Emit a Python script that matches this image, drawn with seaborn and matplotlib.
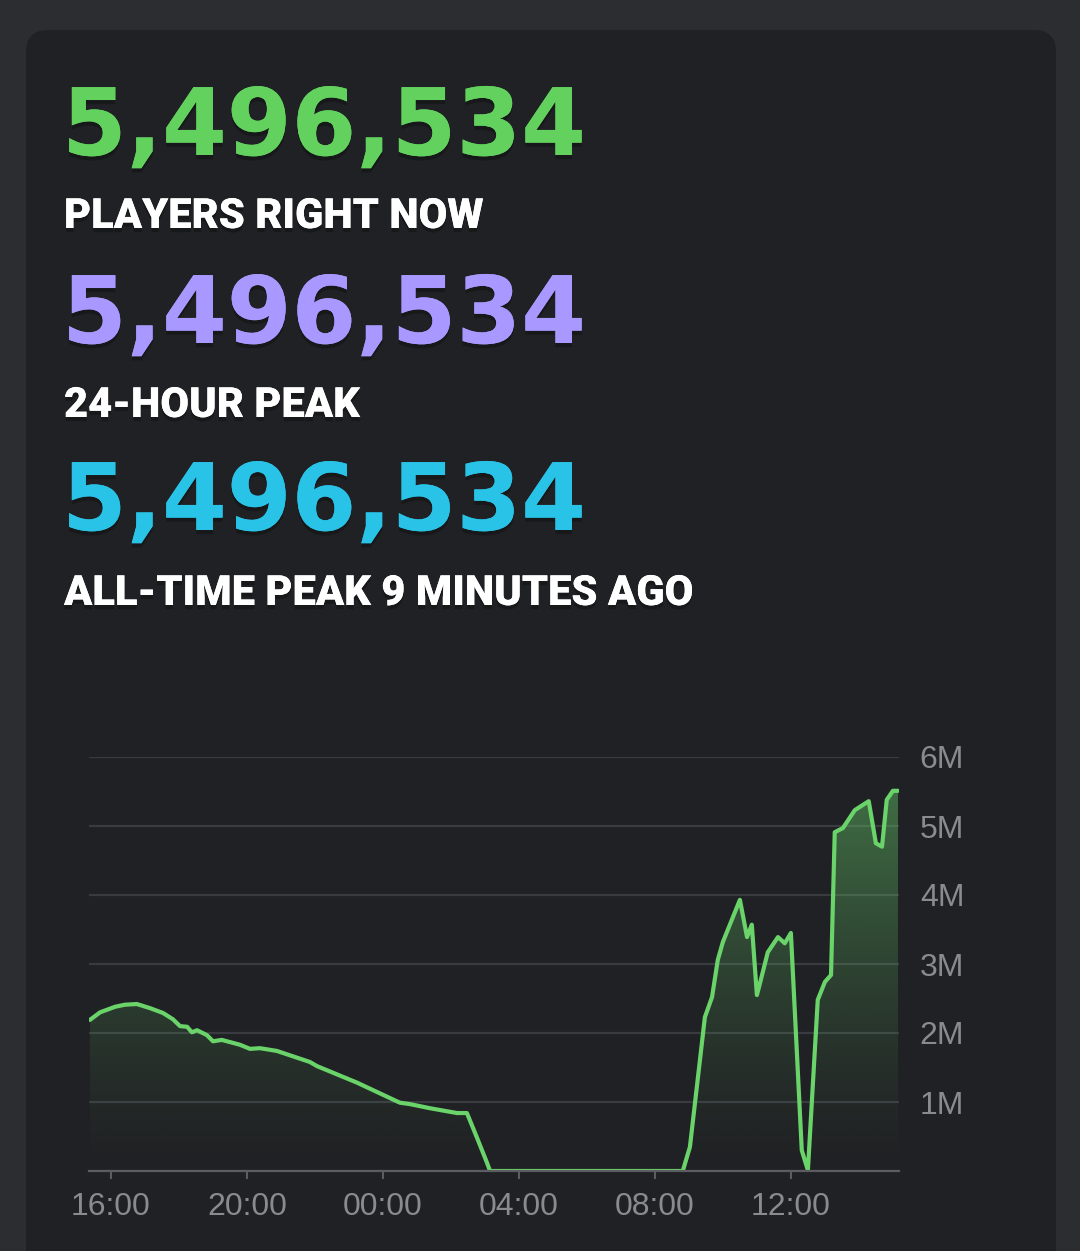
import numpy as np
import pandas as pd
import matplotlib
matplotlib.use('Agg')
import matplotlib.pyplot as plt
import matplotlib.patheffects as pe
from matplotlib.patches import FancyBboxPatch
import seaborn as sns

# ── Data ─────────────────────────────────────────────────────
# hours since 16:00, players in millions
hours = [-0.62, -0.32, 0.12, 0.41, 0.76, 1.15, 1.53, 1.82, 2.03, 2.24,
         2.38, 2.53, 2.82, 3.00, 3.26, 3.79, 4.09, 4.38, 4.88, 5.85,
         6.06, 7.24, 8.41, 8.50, 8.79, 9.38, 10.18, 10.47, 10.76, 11.06,
         11.15, 16.82, 17.03, 17.47, 17.68, 17.85, 18.00, 18.50, 18.71, 18.85,
         19.00, 19.09, 19.32, 19.62, 19.82, 20.00, 20.32, 20.50, 20.79, 21.00,
         21.18, 21.29, 21.53, 21.88, 22.29, 22.50, 22.68, 22.82, 23.00, 23.15]
players = [2.19, 2.30, 2.38, 2.41, 2.42, 2.36, 2.29, 2.20, 2.10, 2.09,
           2.01, 2.04, 1.97, 1.88, 1.90, 1.83, 1.77, 1.78, 1.74, 1.58,
           1.52, 1.28, 1.01, 0.99, 0.97, 0.91, 0.84, 0.84, 0.49, 0.12,
           0.0, 0.0, 0.35, 2.23, 2.52, 3.06, 3.32, 3.93, 3.39, 3.57,
           2.55, 2.72, 3.17, 3.39, 3.30, 3.45, 0.30, 0.01, 2.48, 2.74,
           2.84, 4.91, 4.97, 5.23, 5.36, 4.75, 4.70, 5.38, 5.51, 5.51]
x_ticks = [0, 4, 8, 12, 16, 20]
x_labels = ['16:00', '20:00', '00:00', '04:00', '08:00', '12:00']
y_ticks = [0, 1, 2, 3, 4, 5, 6]
y_labels = ['', '1M', '2M', '3M', '4M', '5M', '6M']

stats = ['5,496,534', '5,496,534', '5,496,534']
stat_labels = ['PLAYERS RIGHT NOW', '24-HOUR PEAK', 'ALL-TIME PEAK 9 MINUTES AGO']

# ── Palette ──────────────────────────────────────────────────
OUTER_BG = '#2c2d31'
CARD_BG  = '#202124'
GREEN    = '#62d15e'
PURPLE   = '#a898ff'
CYAN     = '#28c3e6'
LINE     = '#6ad46a'
GRID     = '#3a3b40'
AXIS     = '#5c5d62'
TICK_TXT = '#8a8b90'
stat_colors = [GREEN, PURPLE, CYAN]

sns.set_theme(style='dark')
plt.rcParams['font.family'] = ['DejaVu Sans']

W, H = 1080, 1251
fig = plt.figure(figsize=(W / 100, H / 100), dpi=100, facecolor=OUTER_BG)

# background layer in pixel coords
bg = fig.add_axes([0, 0, 1, 1])
bg.set_xlim(0, W); bg.set_ylim(H, 0)
bg.axis('off')
bg.add_patch(FancyBboxPatch((26, 30), 1030, 1300,
                            boxstyle='round,pad=0,rounding_size=22',
                            fc=CARD_BG, ec='none'))

shadow = [pe.withSimplePatchShadow(offset=(0, -3), shadow_rgbFace='black', alpha=0.25), pe.Normal()]
num_base = [155, 343, 530]
lab_base = [228, 417, 605]
for s, lab, c, yb, yl in zip(stats, stat_labels, stat_colors, num_base, lab_base):
    bg.text(62, yb, s, color=c, fontsize=67, fontweight='heavy', va='baseline',
            ha='left', family=['DejaVu Sans'], path_effects=shadow)
    bg.text(64, yl, lab, color='white', fontsize=30, fontweight='heavy', va='baseline',
            ha='left', family=['Roboto', 'DejaVu Sans'], path_effects=shadow)

# ── Chart ────────────────────────────────────────────────────
x0, x1 = 89 / W, 899 / W
yb0, yb1 = (H - 1171) / H, (H - 757) / H
ax = fig.add_axes([x0, yb0, x1 - x0, yb1 - yb0])
ax.set_facecolor('none')
xmin, xmax = -0.647, 23.18
ax.set_xlim(xmin, xmax)
ax.set_ylim(0, 6)

df = pd.DataFrame({'hour': hours, 'players': players})

# gradient fill under the line
grad = np.linspace(0, 1, 256).reshape(-1, 1)
rgba = np.zeros((256, 1, 4))
rgba[..., 0], rgba[..., 1], rgba[..., 2] = 0.40, 0.80, 0.42
rgba[..., 3] = grad ** 1.3 * 0.5
im = ax.imshow(rgba, extent=[xmin, xmax, 0, 6], origin='lower', aspect='auto', zorder=1)
poly = ax.fill_between(df['hour'], df['players'], 0, color='none', lw=0)
im.set_clip_path(poly.get_paths()[0], transform=ax.transData)

sns.lineplot(data=df, x='hour', y='players', ax=ax, color=LINE, lw=3, zorder=3)

ax.set_xticks(x_ticks)
ax.set_xticklabels(x_labels)
ax.set_yticks(y_ticks)
ax.set_yticklabels(y_labels)
ax.yaxis.tick_right()
ax.set_xlabel(''); ax.set_ylabel('')
ax.grid(False)
ax.yaxis.grid(True, color=GRID, lw=1.6)
for sp in ['top', 'left', 'right']:
    ax.spines[sp].set_visible(False)
ax.spines['bottom'].set_color(AXIS)
ax.spines['bottom'].set_linewidth(1.6)
ax.spines['bottom'].set_zorder(4)
ax.tick_params(axis='x', bottom=True, length=6, width=1.5, color=AXIS, pad=9,
               labelsize=23, labelcolor=TICK_TXT)
ax.tick_params(axis='y', right=False, length=0, pad=15, labelsize=23, labelcolor=TICK_TXT)
for t in ax.get_xticklabels() + ax.get_yticklabels():
    t.set_family(['Liberation Sans', 'DejaVu Sans'])

fig.savefig('out.png', dpi=100, facecolor=OUTER_BG)
